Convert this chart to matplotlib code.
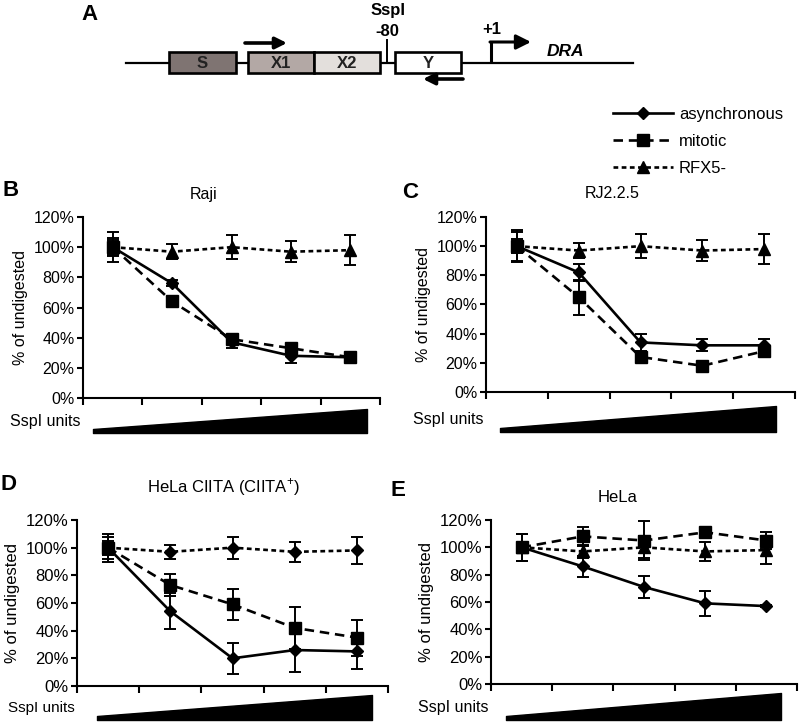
import numpy as np
import matplotlib.pyplot as plt
from matplotlib.patches import Rectangle, Polygon
from matplotlib.lines import Line2D

plt.rcParams['font.family'] = ['Liberation Sans', 'DejaVu Sans']
plt.rcParams['mathtext.fontset'] = 'custom'
plt.rcParams['mathtext.rm'] = 'Liberation Sans'

# five increasing SspI doses (unlabelled on the x axis)
doses = ['d1', 'd2', 'd3', 'd4', 'd5']

# RFX5- control, same in every panel
rfx5 = [100, 97, 100, 97, 98]
rfx5_err = [10, 5, 8, 7, 10]

# B: Raji
raji_async = [100, 76, 37, 28, 27]
raji_async_err = [5, 2, 4, 5, 2]
raji_mit = [100, 64, 39, 33, 27]
raji_mit_err = [6, 2, 2, 3, 2]

# C: RJ2.2.5
rj_async = [100, 82, 34, 32, 32]
rj_async_err = [5, 6, 6, 4, 4]
rj_mit = [100, 65, 24, 18, 28]
rj_mit_err = [11, 12, 2, 2, 3]

# D: HeLa CIITA
hc_async = [100, 54, 20, 26, 25]
hc_async_err = [5, 13, 11, 16, 13]
hc_mit = [100, 73, 59, 42, 35]
hc_mit_err = [8, 8, 11, 15, 13]

# E: HeLa
hela_async = [100, 86, 71, 59, 57]
hela_async_err = [10, 8, 8, 9, 1]
hela_mit = [100, 108, 105, 111, 105]
hela_mit_err = [10, 7, 14, 2, 6]

yticks = [0, 20, 40, 60, 80, 100, 120]

W, H = 800, 725
fig = plt.figure(figsize=(W / 100, H / 100), dpi=100)


def px_rect(l, t, r, b):
    return [l / W, 1 - b / H, (r - l) / W, (b - t) / H]


MIT_DASH = (3.6, 2.2)
RFX_DASH = (1.8, 1.3)

# (letter, title, rect px, async, async err, mitotic, mit err, control marker, fontsize,
#  units fontsize, letter pos, title pos, wedge)
panels = [
    ('B', 'Raji', (83, 217, 380, 398), raji_async, raji_async_err, raji_mit, raji_mit_err, '^', 11.5, 11.5,
     (11, 190), (204, 194), (0.034, 0.956, -0.193, -0.061)),
    ('C', 'RJ2.2.5', (486, 217, 795, 392), rj_async, rj_async_err, rj_mit, rj_mit_err, '^', 11.5, 11.5,
     (410, 193), (612, 194), (0.045, 0.939, -0.229, -0.080)),
    ('D', 'HeLa CIITA (CIITA$^{+}$)', (77, 520, 388, 686), hc_async, hc_async_err, hc_mit, hc_mit_err, 'D', 12, 11,
     (9, 484), (223, 487), (0.064, 0.949, -0.205, -0.054)),
    ('E', 'HeLa', (491, 520, 797, 684), hela_async, hela_async_err, hela_mit, hela_mit_err, '^', 12, 11.5,
     (398, 490), (618, 498), (0.049, 0.948, -0.220, -0.055)),
]

x = np.arange(len(doses)) + 0.5
eb = dict(capsize=4, elinewidth=1.4, capthick=1.4, ecolor='black', color='black', lw=1.9)

for letter, title, rect, a, ae, m, me, cmark, fs, ufs, lpos, tpos, wedge in panels:
    ax = fig.add_axes(px_rect(*rect))
    ax.errorbar(x, a, yerr=ae, fmt='-', marker='D', ms=6, **eb, zorder=3)
    ax.errorbar(x, rfx5, yerr=rfx5_err, fmt='--', marker=cmark, ms=6.5 if cmark == 'D' else 8,
                dashes=RFX_DASH, **eb, zorder=4)
    ax.errorbar(x, m, yerr=me, fmt='--', marker='s', ms=8.5, dashes=MIT_DASH, **eb, zorder=5)

    ax.set_xlim(0, len(doses))
    ax.set_xticks(np.arange(len(doses) + 1))
    ax.set_xticklabels([])
    ax.set_ylim(0, 120)
    ax.set_yticks(yticks)
    ax.set_yticklabels([f'{v}%' for v in yticks], fontsize=fs)
    ax.spines[['top', 'right']].set_visible(False)
    ax.spines[['left', 'bottom']].set_linewidth(1.5)
    ax.tick_params(axis='y', direction='out', length=4, width=1.5, pad=2)
    ax.tick_params(axis='x', direction='out', length=5, width=1.5)
    ax.set_ylabel('% of undigested', fontsize=fs, labelpad=4)

    # increasing enzyme wedge under the axis
    x0, x1, yb, yt = wedge
    ax.add_patch(Polygon([(x0, yb + 0.022), (x0, yb), (x1, yb), (x1, yt)], closed=True,
                         transform=ax.transAxes, facecolor='black', edgecolor='black',
                         joinstyle='round', lw=1, clip_on=False))
    ax.text(-0.008, (yb + yt) / 2 - 0.005, 'SspI units', transform=ax.transAxes, ha='right',
            va='center', fontsize=ufs)

    fig.text(lpos[0] / W, 1 - lpos[1] / H, letter, fontsize=16, fontweight='bold',
             ha='center', va='center')
    fig.text(tpos[0] / W, 1 - tpos[1] / H, title, fontsize=fs, ha='center', va='center')

# legend
handles = [
    Line2D([], [], color='black', lw=1.9, marker='D', ms=6),
    Line2D([], [], color='black', lw=1.9, marker='s', ms=8.5, ls='--', dashes=MIT_DASH),
    Line2D([], [], color='black', lw=1.9, marker='^', ms=8, ls='--', dashes=RFX_DASH),
]
fig.legend(handles, ['asynchronous', 'mitotic', 'RFX5-'], loc='upper left',
           bbox_to_anchor=(613 / W, 1 - 107 / H), frameon=False, fontsize=12,
           handlelength=3.6, handletextpad=0.35, labelspacing=0.72, borderpad=0,
           borderaxespad=0)

# A: promoter diagram, drawn in pixel units
axa = fig.add_axes([0, 1 - 130 / H, 1, 130 / H])
axa.set_xlim(0, W)
axa.set_ylim(130, 0)
axa.axis('off')
axa.plot([126, 633], [63, 63], color='black', lw=1.6, zorder=1)
boxes = [('S', 169, 236, '#7f7472'), ('X1', 248, 314, '#b3a8a5'),
         ('X2', 314, 380, '#e3dfdc'), ('Y', 395, 461, 'white')]
for lab, bx0, bx1, col in boxes:
    axa.add_patch(Rectangle((bx0, 52), bx1 - bx0, 21, facecolor=col, edgecolor='black',
                            lw=1.9, zorder=2))
    axa.text((bx0 + bx1) / 2, 63.5, lab, ha='center', va='center', fontsize=12,
             fontweight='bold', color='#222222', zorder=3)
axa.plot([387, 387], [40, 63], color='black', lw=1.4)
axa.text(388, 10, 'SspI', ha='center', va='center', fontsize=12, fontweight='bold')
axa.text(387, 32, '-80', ha='center', va='center', fontsize=12, fontweight='bold')
axa.text(89, 14, 'A', ha='center', va='center', fontsize=16, fontweight='bold')
axa.annotate('', xy=(287, 43), xytext=(245, 43),
             arrowprops=dict(arrowstyle='-|>', lw=2.6, color='black', mutation_scale=17,
                             shrinkA=0, shrinkB=0))
axa.annotate('', xy=(423, 79), xytext=(463, 79),
             arrowprops=dict(arrowstyle='-|>', lw=2.6, color='black', mutation_scale=17,
                             shrinkA=0, shrinkB=0))
axa.plot([491, 491], [63, 42], color='black', lw=2.2, solid_capstyle='butt')
axa.annotate('', xy=(531, 42), xytext=(490, 42),
             arrowprops=dict(arrowstyle='-|>', lw=2.2, color='black', mutation_scale=22,
                             shrinkA=0, shrinkB=0))
axa.text(492, 30, '+1', ha='center', va='center', fontsize=12, fontweight='bold')
axa.text(565, 52, 'DRA', ha='center', va='center', fontsize=12.5, fontweight='bold',
         fontstyle='italic')

fig.savefig('out.png', dpi=100)
